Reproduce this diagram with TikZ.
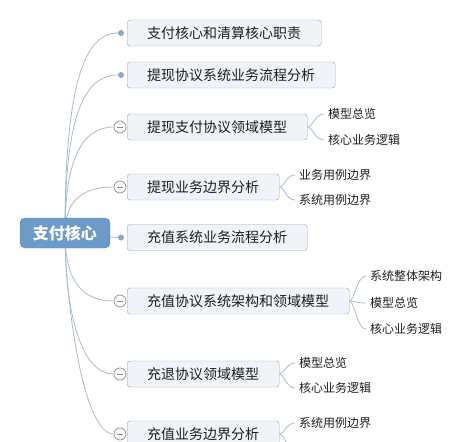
\documentclass[tikz,border=0pt]{standalone}
\usepackage{fontspec}
\setmainfont{Noto Sans CJK SC}
\definecolor{linec}{HTML}{A7BCCF}
\definecolor{boxf}{HTML}{F0F4F8}
\definecolor{boxd}{HTML}{8FA5BA}
\definecolor{rootf}{HTML}{6B9BC6}
\definecolor{rootd}{HTML}{5D8BB5}
\definecolor{dotc}{HTML}{8AA9C6}
\definecolor{colc}{HTML}{8C8C8C}
\definecolor{txt}{HTML}{1E1E1E}
\begin{document}
\begin{tikzpicture}[x=1pt,y=-1pt,
  conn/.style={draw=linec, line width=0.8pt},
  topic/.style={draw=boxd, fill=boxf, rounded corners=3pt, anchor=west, minimum height=26pt, inner xsep=20pt, inner ysep=0pt, font=\fontsize{14}{14}\selectfont, text=txt},
  rootbox/.style={draw=rootd, fill=rootf, rounded corners=5pt, minimum width=90pt, minimum height=30pt, inner sep=0pt, font=\fontsize{16}{16}\selectfont\bfseries, text=white},
  leaf/.style={anchor=west, inner sep=0pt, font=\fontsize{12}{12}\selectfont, text=txt},
  dotm/.style={circle, fill=dotc, inner sep=0pt, minimum size=6pt},
  colm/.style={circle, draw=colc, fill=white, inner sep=0pt, minimum size=12pt, line width=0.7pt,
    path picture={\draw[colc, line width=0.7pt] ([xshift=3pt]path picture bounding box.west) -- ([xshift=-3pt]path picture bounding box.east);}}]
\useasboundingbox (0,0) rectangle (467,442);
\clip (0,0) rectangle (467,442);
\coordinate (o) at (65,233);
% markers
\node[dotm] (m1) at (121,33) {};
\node[dotm] (m2) at (121,75) {};
\node[colm] (m3) at (120,127) {};
\node[colm] (m4) at (120,187) {};
\node[dotm] (m5) at (121,237.5) {};
\node[colm] (m6) at (120,301) {};
\node[colm] (m7) at (120,374) {};
\node[colm] (m8) at (120,434) {};
% connectors from root
\draw[conn] (o) .. controls (65,93) and (82,33) .. (m1.west);
\draw[conn] (o) .. controls (65,122) and (82,75) .. (m2.west);
\draw[conn] (o) .. controls (65,159) and (82,127) .. (m3.west);
\draw[conn] (o) .. controls (65,201) and (82,187) .. (m4.west);
\draw[conn] (o) -- (m5.west);
\draw[conn] (o) .. controls (65,281) and (82,301) .. (m6.west);
\draw[conn] (o) .. controls (65,316) and (82,374) .. (m7.west);
\draw[conn] (o) .. controls (65,294) and (82,434) .. (m8.west);
% root
\node[rootbox] (root) at (65,233) {支付核心};
% topics
\node[topic] (b1) at (127,33) {支付核心和清算核心职责};
\node[topic] (b2) at (127,75) {提现协议系统业务流程分析};
\node[topic] (b3) at (127,127) {提现支付协议领域模型};
\node[topic] (b4) at (127,187) {提现业务边界分析};
\node[topic] (b5) at (127,237.5) {充值系统业务流程分析};
\node[topic] (b6) at (127,301) {充值协议系统架构和领域模型};
\node[topic] (b7) at (127,374) {充退协议领域模型};
\node[topic] (b8) at (127,434) {充值业务边界分析};
% leaves
\node[leaf] (l31) at (328,114) {模型总览};
\node[leaf] (l32) at (328,140) {核心业务逻辑};
\node[leaf] (l41) at (299,175) {业务用例边界};
\node[leaf] (l42) at (299,200) {系统用例边界};
\node[leaf] (l61) at (370,276) {系统整体架构};
\node[leaf] (l62) at (370,303) {模型总览};
\node[leaf] (l63) at (370,329) {核心业务逻辑};
\node[leaf] (l71) at (299,363) {模型总览};
\node[leaf] (l72) at (299,388) {核心业务逻辑};
\node[leaf] (l81) at (299,423) {系统用例边界};
\coordinate (l82) at (299,449);
% leaf branches
\foreach \b/\l in {b3/l31,b3/l32,b4/l41,b4/l42,b6/l61,b6/l62,b6/l63,b7/l71,b7/l72,b8/l81,b8/l82}{
  \draw[conn] (\b.east) .. controls ([xshift=5pt]\b.east) and ([xshift=-13pt]\l.west) .. ([xshift=-4pt]\l.west);
}
\end{tikzpicture}
\end{document}
